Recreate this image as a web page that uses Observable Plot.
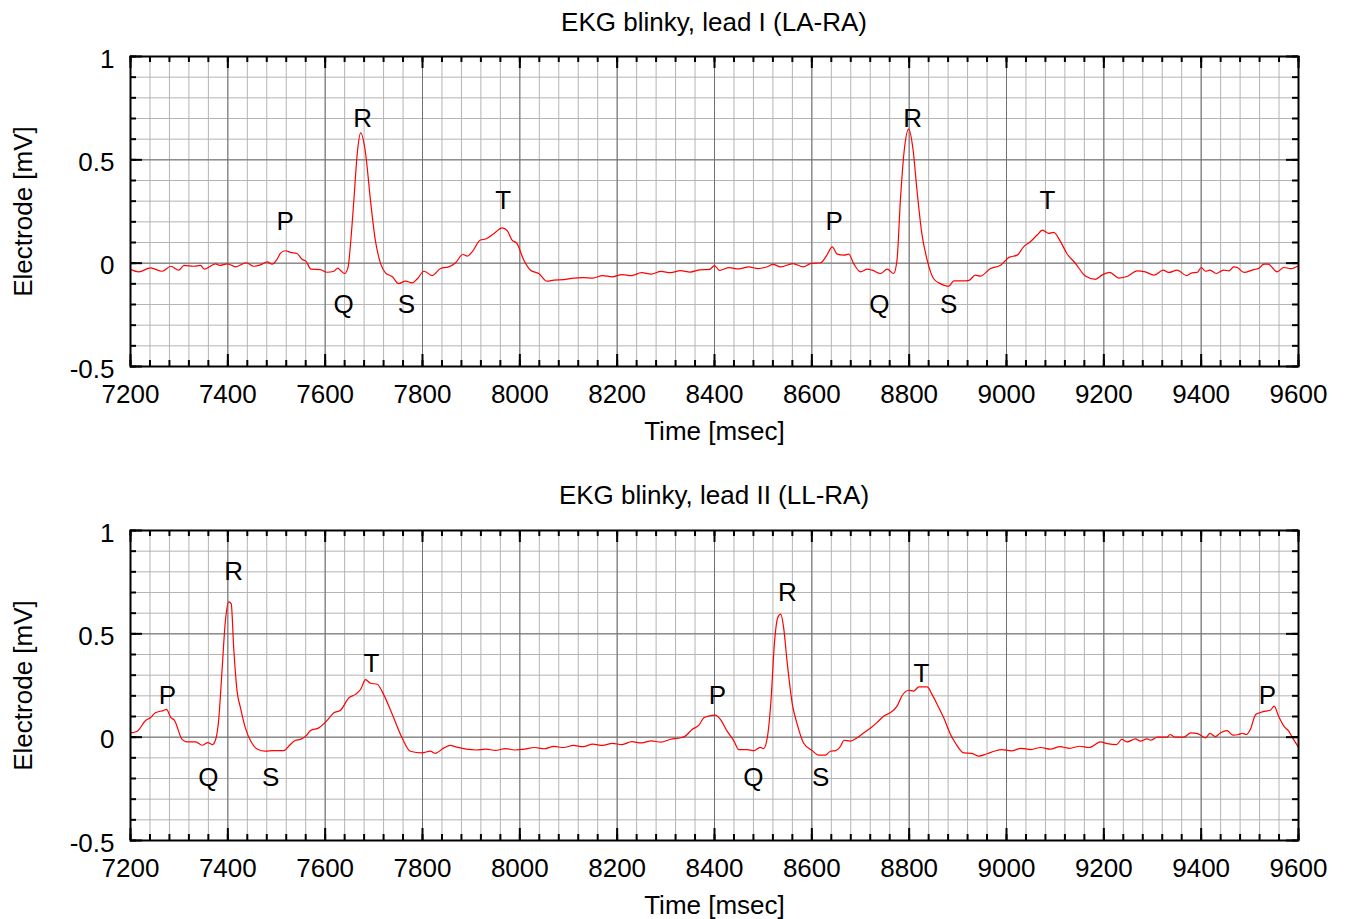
<!DOCTYPE html>
<html>
<head>
<meta charset="utf-8">
<script src="https://cdn.jsdelivr.net/npm/d3@7"></script>
<script src="https://cdn.jsdelivr.net/npm/@observablehq/plot@0.6"></script>
<style>
  body { margin: 0; background: #fff; }
  #wrap { position: relative; width: 1349px; height: 919px; overflow: hidden; font-family: 'Liberation Sans', Arial, sans-serif; }
  .title { position: absolute; left: 130px; width: 1168px; text-align: center; font-size: 26px; line-height: 36px; color: #000; }
  .panel { position: absolute; left: 0; }
</style>
</head>
<body>
<div id="wrap">
  <div class="panel" id="p1" style="top:0px"></div>
  <div class="panel" id="p2" style="top:460px"></div>
  <div class="title" style="top:4px">EKG blinky, lead I (LA-RA)</div>
  <div class="title" style="top:477px">EKG blinky, lead II (LL-RA)</div>
</div>
<script>
// ---- Data: lead I ----
const lead1T = [7200,7217,7241,7265,7283,7299,7310,7330,7344,7352,7364,7375,7383,7399,7416,7438,7453,7467,7481,7491,7500,7508,7518,7529,7542,7553,7560,7571,7590,7604,7618,7626,7631,7640,7647,7652,7659,7666,7673,7683,7693,7703,7714,7724,7738,7751,7765,7779,7790,7803,7820,7837,7854,7868,7883,7892,7902,7919,7930,7947,7964,7974,7984,7994,8008,8022,8039,8056,8070,8090,8110,8130,8150,8170,8190,8210,8230,8250,8270,8290,8310,8330,8350,8370,8390,8400,8410,8430,8450,8470,8490,8510,8520,8536,8561,8583,8597,8618,8631,8642,8652,8666,8676,8686,8700,8714,8724,8741,8755,8768,8775,8782,8790,8799,8808,8816,8826,8837,8850,8864,8881,8892,8909,8923,8936,8946,8967,8988,9005,9022,9035,9049,9063,9074,9087,9097,9111,9124,9142,9162,9183,9196,9212,9231,9250,9268,9285,9303,9322,9333,9351,9370,9381,9392,9400,9409,9418,9431,9446,9457,9467,9474,9488,9508,9518,9529,9538,9546,9556,9570,9584,9600];
const lead1V = [-0.030,-0.042,-0.023,-0.039,-0.015,-0.034,-0.011,-0.015,-0.011,-0.029,-0.015,-0.003,-0.011,-0.003,-0.018,0.002,-0.015,-0.008,0.006,-0.005,0.015,0.047,0.060,0.052,0.047,0.018,0.011,-0.029,-0.031,-0.044,-0.039,-0.024,-0.034,-0.050,-0.020,0.090,0.306,0.532,0.630,0.532,0.306,0.112,-0.002,-0.047,-0.066,-0.099,-0.087,-0.095,-0.074,-0.039,-0.060,-0.026,-0.018,0.002,0.042,0.034,0.055,0.112,0.117,0.144,0.171,0.157,0.112,0.096,0.015,-0.034,-0.050,-0.087,-0.082,-0.080,-0.072,-0.070,-0.072,-0.060,-0.066,-0.055,-0.060,-0.046,-0.053,-0.040,-0.046,-0.036,-0.043,-0.032,-0.030,-0.012,-0.035,-0.022,-0.028,-0.018,-0.026,-0.016,-0.006,-0.018,-0.002,-0.018,-0.002,0.002,0.039,0.079,0.044,0.039,0.044,-0.002,-0.042,-0.029,-0.034,-0.050,-0.029,-0.050,0.015,0.306,0.549,0.649,0.549,0.354,0.144,0.015,-0.074,-0.099,-0.112,-0.086,-0.086,-0.083,-0.058,-0.063,-0.026,-0.010,0.028,0.039,0.079,0.104,0.136,0.160,0.144,0.149,0.104,0.047,-0.002,-0.062,-0.078,-0.058,-0.045,-0.072,-0.062,-0.037,-0.042,-0.058,-0.034,-0.045,-0.034,-0.060,-0.047,-0.045,-0.021,-0.039,-0.034,-0.050,-0.034,-0.037,-0.018,-0.021,-0.045,-0.031,-0.026,-0.005,-0.005,-0.021,-0.042,-0.021,-0.026,-0.012];

// ---- Data: lead II ----
const lead2T = [7200,7214,7231,7241,7251,7268,7274,7283,7290,7306,7316,7334,7347,7359,7368,7375,7381,7388,7395,7402,7407,7412,7419,7426,7436,7447,7460,7477,7494,7515,7525,7539,7549,7560,7570,7587,7604,7618,7631,7649,7662,7673,7683,7693,7707,7720,7738,7758,7775,7799,7816,7826,7844,7857,7870,7890,7910,7930,7950,7970,7990,8010,8030,8050,8070,8090,8110,8130,8150,8170,8190,8210,8230,8250,8270,8290,8310,8330,8340,8354,8368,8378,8388,8402,8412,8426,8440,8450,8467,8481,8494,8501,8509,8516,8523,8530,8536,8542,8549,8560,8570,8583,8601,8614,8628,8638,8649,8659,8666,8679,8693,8707,8724,8737,8748,8761,8775,8785,8799,8809,8820,8837,8847,8861,8871,8885,8895,8912,8929,8943,8960,8975,8990,9010,9030,9050,9070,9090,9110,9130,9150,9170,9193,9207,9226,9237,9248,9265,9275,9289,9296,9310,9330,9336,9346,9364,9379,9394,9409,9418,9429,9440,9453,9465,9477,9484,9493,9501,9512,9520,9532,9542,9550,9559,9570,9580,9587,9600];
const lead2V = [0.021,0.029,0.081,0.094,0.118,0.129,0.134,0.094,0.083,-0.011,-0.023,-0.023,-0.039,-0.026,-0.036,-0.011,0.078,0.320,0.563,0.655,0.645,0.434,0.223,0.142,0.045,-0.019,-0.057,-0.068,-0.065,-0.065,-0.044,-0.015,-0.011,0.005,0.032,0.045,0.081,0.118,0.129,0.191,0.207,0.232,0.278,0.261,0.256,0.207,0.110,-0.003,-0.068,-0.076,-0.068,-0.078,-0.052,-0.040,-0.048,-0.058,-0.062,-0.058,-0.064,-0.055,-0.062,-0.058,-0.050,-0.056,-0.045,-0.050,-0.040,-0.046,-0.034,-0.040,-0.030,-0.036,-0.022,-0.028,-0.018,-0.024,-0.010,-0.003,0.005,0.037,0.058,0.094,0.102,0.107,0.086,0.029,-0.019,-0.060,-0.060,-0.065,-0.049,-0.055,0.005,0.175,0.450,0.579,0.595,0.531,0.369,0.159,0.062,-0.028,-0.065,-0.087,-0.087,-0.068,-0.065,-0.044,-0.015,-0.019,-0.003,0.021,0.050,0.078,0.102,0.118,0.150,0.199,0.227,0.223,0.243,0.243,0.207,0.142,0.094,0.013,-0.028,-0.076,-0.078,-0.092,-0.080,-0.068,-0.060,-0.066,-0.054,-0.060,-0.050,-0.058,-0.046,-0.054,-0.044,-0.050,-0.023,-0.031,-0.036,-0.011,-0.023,-0.008,-0.019,-0.008,-0.015,0.000,0.000,0.013,0.000,0.000,0.021,0.016,-0.003,0.018,0.003,0.021,0.032,0.010,0.013,0.019,0.013,0.037,0.110,0.118,0.126,0.130,0.150,0.102,0.053,0.029,0.000,-0.049];

// ---- Wave labels ----
const lead1LabelText = ["P","Q","R","S","T","P","Q","R","S","T"];
const lead1LabelT    = [7518,7638,7677,7767,7966,8646,8739,8807,8881,9084];
const lead1LabelV    = [0.20,-0.20,0.70,-0.20,0.30,0.20,-0.20,0.70,-0.20,0.30];
const lead2LabelText = ["P","Q","R","S","T","P","Q","R","S","T","P"];
const lead2LabelT    = [7276,7360,7412,7488,7695,8406,8480,8550,8618,8825,9536];
const lead2LabelV    = [0.20,-0.195,0.80,-0.195,0.355,0.20,-0.195,0.70,-0.195,0.305,0.20];

// ---- Ticks ----
const xTicks = [7200,7400,7600,7800,8000,8200,8400,8600,8800,9000,9200,9400,9600];
const yTicks = [-0.5,0,0.5,1];
const xMinor = d3.range(7200, 9601, 40);
const yMinor = d3.range(-5, 11).map(i => i / 10);

const W = 1349, ML = 130, MR = 51;
const PW = W - ML - MR, PH = 310;
const FS = 26;

function panel(T, V, LT, LX, LY, opts) {
  const data = T.map((t, i) => ({t, v: V[i]}));
  const labels = LT.map((s, i) => ({s, t: LX[i], v: LY[i]}));
  const tickStyle = {stroke: "black", strokeWidth: 2};
  return Plot.plot({
    width: W, height: opts.height,
    marginLeft: ML, marginRight: MR, marginTop: opts.top, marginBottom: opts.height - opts.top - PH,
    x: {domain: [7200, 9600]},
    y: {domain: [-0.5, 1]},
    style: {fontFamily: "'Liberation Sans', Arial, sans-serif", fontSize: FS + "px", color: "black", background: "white", overflow: "visible"},
    marks: [
      Plot.gridX(xMinor, {stroke: "#b4b4b4", strokeOpacity: 1, strokeWidth: 1}),
      Plot.gridY(yMinor, {stroke: "#b4b4b4", strokeOpacity: 1, strokeWidth: 1}),
      Plot.gridX(xTicks, {stroke: "#707070", strokeOpacity: 1, strokeWidth: 1}),
      Plot.gridY(yTicks, {stroke: "#707070", strokeOpacity: 1, strokeWidth: 1}),
      Plot.line(data, {x: "t", y: "v", stroke: "#ff0000", strokeWidth: 1.2, curve: "monotone-x"}),
      Plot.text(labels, {x: "t", y: "v", text: "s", fontSize: FS, fill: "black"}),
      // inward ticks
      Plot.ruleX(xMinor, {...tickStyle, insetTop: PH - 6}),
      Plot.ruleX(xMinor, {...tickStyle, insetBottom: PH - 6}),
      Plot.ruleX(xTicks, {...tickStyle, insetTop: PH - 12}),
      Plot.ruleX(xTicks, {...tickStyle, insetBottom: PH - 12}),
      Plot.ruleY(yMinor, {...tickStyle, insetRight: PW - 6}),
      Plot.ruleY(yMinor, {...tickStyle, insetLeft: PW - 6}),
      Plot.ruleY(yTicks, {...tickStyle, insetRight: PW - 12}),
      Plot.ruleY(yTicks, {...tickStyle, insetLeft: PW - 12}),
      Plot.frame({stroke: "black", strokeWidth: 2}),
      Plot.axisX(xTicks, {tickSize: 0, tickPadding: 18, tickFormat: d => String(d), fontSize: FS, label: null}),
      Plot.axisY(yTicks, {tickSize: 0, tickPadding: 16, dy: 3, tickFormat: d => String(d), fontSize: FS, label: null}),
      Plot.text(["Time [msec]"], {text: d => d, frameAnchor: "bottom", lineAnchor: "middle", textAnchor: "middle", dy: 65, fontSize: FS}),
      Plot.text(["Electrode [mV]"], {text: d => d, frameAnchor: "left", lineAnchor: "middle", textAnchor: "middle", dx: -107, rotate: -90, fontSize: FS})
    ]
  });
}

document.getElementById("p1").appendChild(
  panel(lead1T, lead1V, lead1LabelText, lead1LabelT, lead1LabelV, {height: 460, top: 56}));
document.getElementById("p2").appendChild(
  panel(lead2T, lead2V, lead2LabelText, lead2LabelT, lead2LabelV, {height: 459, top: 70}));
</script>
</body>
</html>
